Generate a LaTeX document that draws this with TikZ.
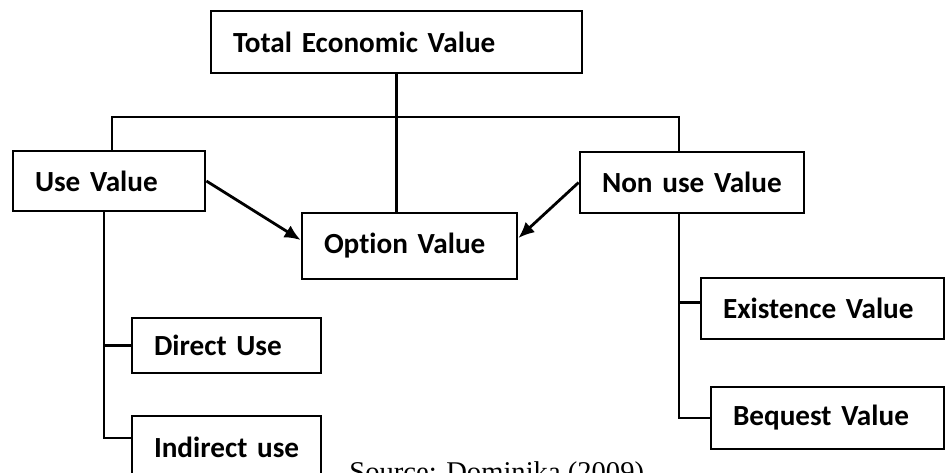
\documentclass[tikz,border=0pt]{standalone}
\usepackage{fontspec}
\setmainfont{Liberation Serif}
\newfontfamily\boxfont[Ligatures=NoCommon]{Carlito}
\usepackage{tikz}
\usetikzlibrary{arrows.meta,positioning,calc}

\begin{document}
\begin{tikzpicture}[x=0.5pt, y=-0.5pt, line width=1.4pt,
    valbox/.style={draw, rectangle, inner xsep=11pt, inner ysep=0pt, align=left,
        execute at begin node={\hbox\bgroup}, execute at end node={\egroup},
        font=\boxfont\bfseries\fontsize{14.6}{17}\selectfont},
    valarrow/.style={-{Latex[length=8pt,width=7pt]}}]
    \useasboundingbox (0,0) rectangle (945,472);

    % Top
    \node[valbox, text width=163.5pt, minimum height=31pt] (tev) at (396.5,42) {Total Economic Value};

    % Use / Option / Non use
    \node[valbox, text width=74pt, minimum height=30pt] (use) at (109,181) {Use Value};
    \node[valbox, text width=85.5pt, minimum height=33pt] (option) at (409.5,246) {Option Value};
    \node[valbox, text width=90pt, minimum height=30.5pt] (nonuse) at (692,182.5) {Non use Value};

    % Left branch
    \node[valbox, text width=72.5pt, minimum height=27.5pt] (direct) at (226.5,345.5) {Direct Use};
    \node[valbox, text width=72.5pt, minimum height=31pt] (indirect) at (226.5,447) {Indirect use};

    % Right branch
    \node[valbox, text width=99.5pt, minimum height=30.5pt] (existence) at (822.5,308.5) {Existence Value};
    \node[valbox, text width=94.5pt, minimum height=31pt] (bequest) at (827.5,418) {Bequest Value};

    % Source
    \node[anchor=base west, inner sep=0pt, font=\fontsize{14.3}{17}\selectfont] (src) at (348,481) {Source: Dominika (2009)};

    % Lines
    \coordinate (lbar) at (112,117);
    \coordinate (rbar) at (679,117);
    \coordinate (lspine) at (104,0);
    \draw (tev.south) -- (tev.south |- option.north);
    \draw (use.north -| lbar) -- (lbar) -- (rbar) -- (nonuse.north -| rbar);
    \draw (use.south -| lspine) |- ([yshift=4.5pt]indirect.west);
    \draw (lspine |- direct.west) -- (direct.west);
    \draw (nonuse.south -| rbar) |- (bequest.west);
    \draw ([yshift=3pt]existence.west -| rbar) -- ([yshift=3pt]existence.west);

    % Arrows
    \draw[valarrow] (use.east) -- ([yshift=3pt]option.west);
    \draw[valarrow] (nonuse.west) -- ([yshift=4pt]option.east);
\end{tikzpicture}
\end{document}
